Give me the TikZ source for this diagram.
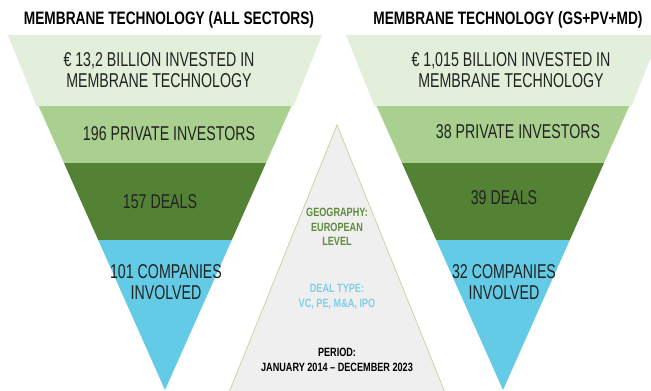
\documentclass[tikz,border=0pt]{standalone}
\usepackage{fontspec}
\setmainfont[FakeStretch=0.76]{Liberation Sans}
\newfontfamily\bodyfont[FakeStretch=0.71]{Liberation Sans}

\definecolor{bandA}{HTML}{E2EFDA}
\definecolor{bandB}{HTML}{A9D08E}
\definecolor{bandC}{HTML}{548235}
\definecolor{bandD}{HTML}{63CBE5}
\definecolor{scopefill}{HTML}{EFEFEF}
\definecolor{scopeline}{HTML}{CFCB9E}
\definecolor{bodytext}{HTML}{222222}
\definecolor{geotext}{HTML}{5F8B3C}
\definecolor{dealtext}{HTML}{7ECFE8}

% one funnel, centred at x = #1
\newcommand\drawfunnel[1]{%
  \fill[bandA] (#1-157,35) -- (#1+157,35) -- (#1+128.5,106) -- (#1-128.5,106) -- cycle;
  \fill[bandB] (#1-126.4,106) -- (#1+126.4,106) -- (#1+101,163) -- (#1-101,163) -- cycle;
  \fill[bandC] (#1-101,163) -- (#1+101,163) -- (#1+66.8,240) -- (#1-66.8,240) -- cycle;
  \fill[bandD] (#1-66.8,240) -- (#1+66.8,240) -- (#1,390) -- cycle;
}

\begin{document}
\begin{tikzpicture}[x=1pt,y=-1pt,
  title/.style={font=\bfseries\fontsize{18}{21}\selectfont, text=black, inner sep=0pt},
  body/.style={font=\bodyfont\fontsize{20}{21}\selectfont, text=bodytext, align=center, inner sep=0pt},
  small/.style={font=\bfseries\fontsize{12}{14.5}\selectfont, align=center, inner sep=0pt}]
\useasboundingbox (0,0) rectangle (651,391);
\clip (0,0) rectangle (651,391);
\fill[white] (0,0) rectangle (651,391);

% the two funnels
\drawfunnel{165}
\drawfunnel{503}

% central scope triangle
\filldraw[fill=scopefill, draw=scopeline, line width=0.7pt]
  (337,125) -- (446,395) -- (228,395) -- cycle;

% titles
\node[title] (titleL) at (169,20) {MEMBRANE TECHNOLOGY (ALL SECTORS)};
\node[title] (titleR) at (508,20) {MEMBRANE TECHNOLOGY (GS+PV+MD)};

% left funnel labels
\node[body] (investL) at (159,70) {€ 13,2 BILLION INVESTED IN\\MEMBRANE TECHNOLOGY};
\node[body] (privL) at (169,134) {196 PRIVATE INVESTORS};
\node[body] (dealsL) at (160,202) {157 DEALS};
\node[body] (compL) at (166,282) {101 COMPANIES\\INVOLVED};

% right funnel labels
\node[body] (investR) at (511,70) {€ 1,015 BILLION INVESTED IN\\MEMBRANE TECHNOLOGY};
\node[body] (privR) at (518,132) {38 PRIVATE INVESTORS};
\node[body] (dealsR) at (504,198) {39 DEALS};
\node[body] (compR) at (504,282) {32 COMPANIES\\INVOLVED};

% scope labels
\node[small, text=geotext] (geo) at (337,227) {GEOGRAPHY:\\EUROPEAN\\LEVEL};
\node[small, text=dealtext] (dtype) at (337,297) {DEAL TYPE:\\VC, PE, M\&A, IPO};
\node[small, text=black] (period) at (337,360) {PERIOD:\\JANUARY 2014 – DECEMBER 2023};
\end{tikzpicture}
\end{document}
